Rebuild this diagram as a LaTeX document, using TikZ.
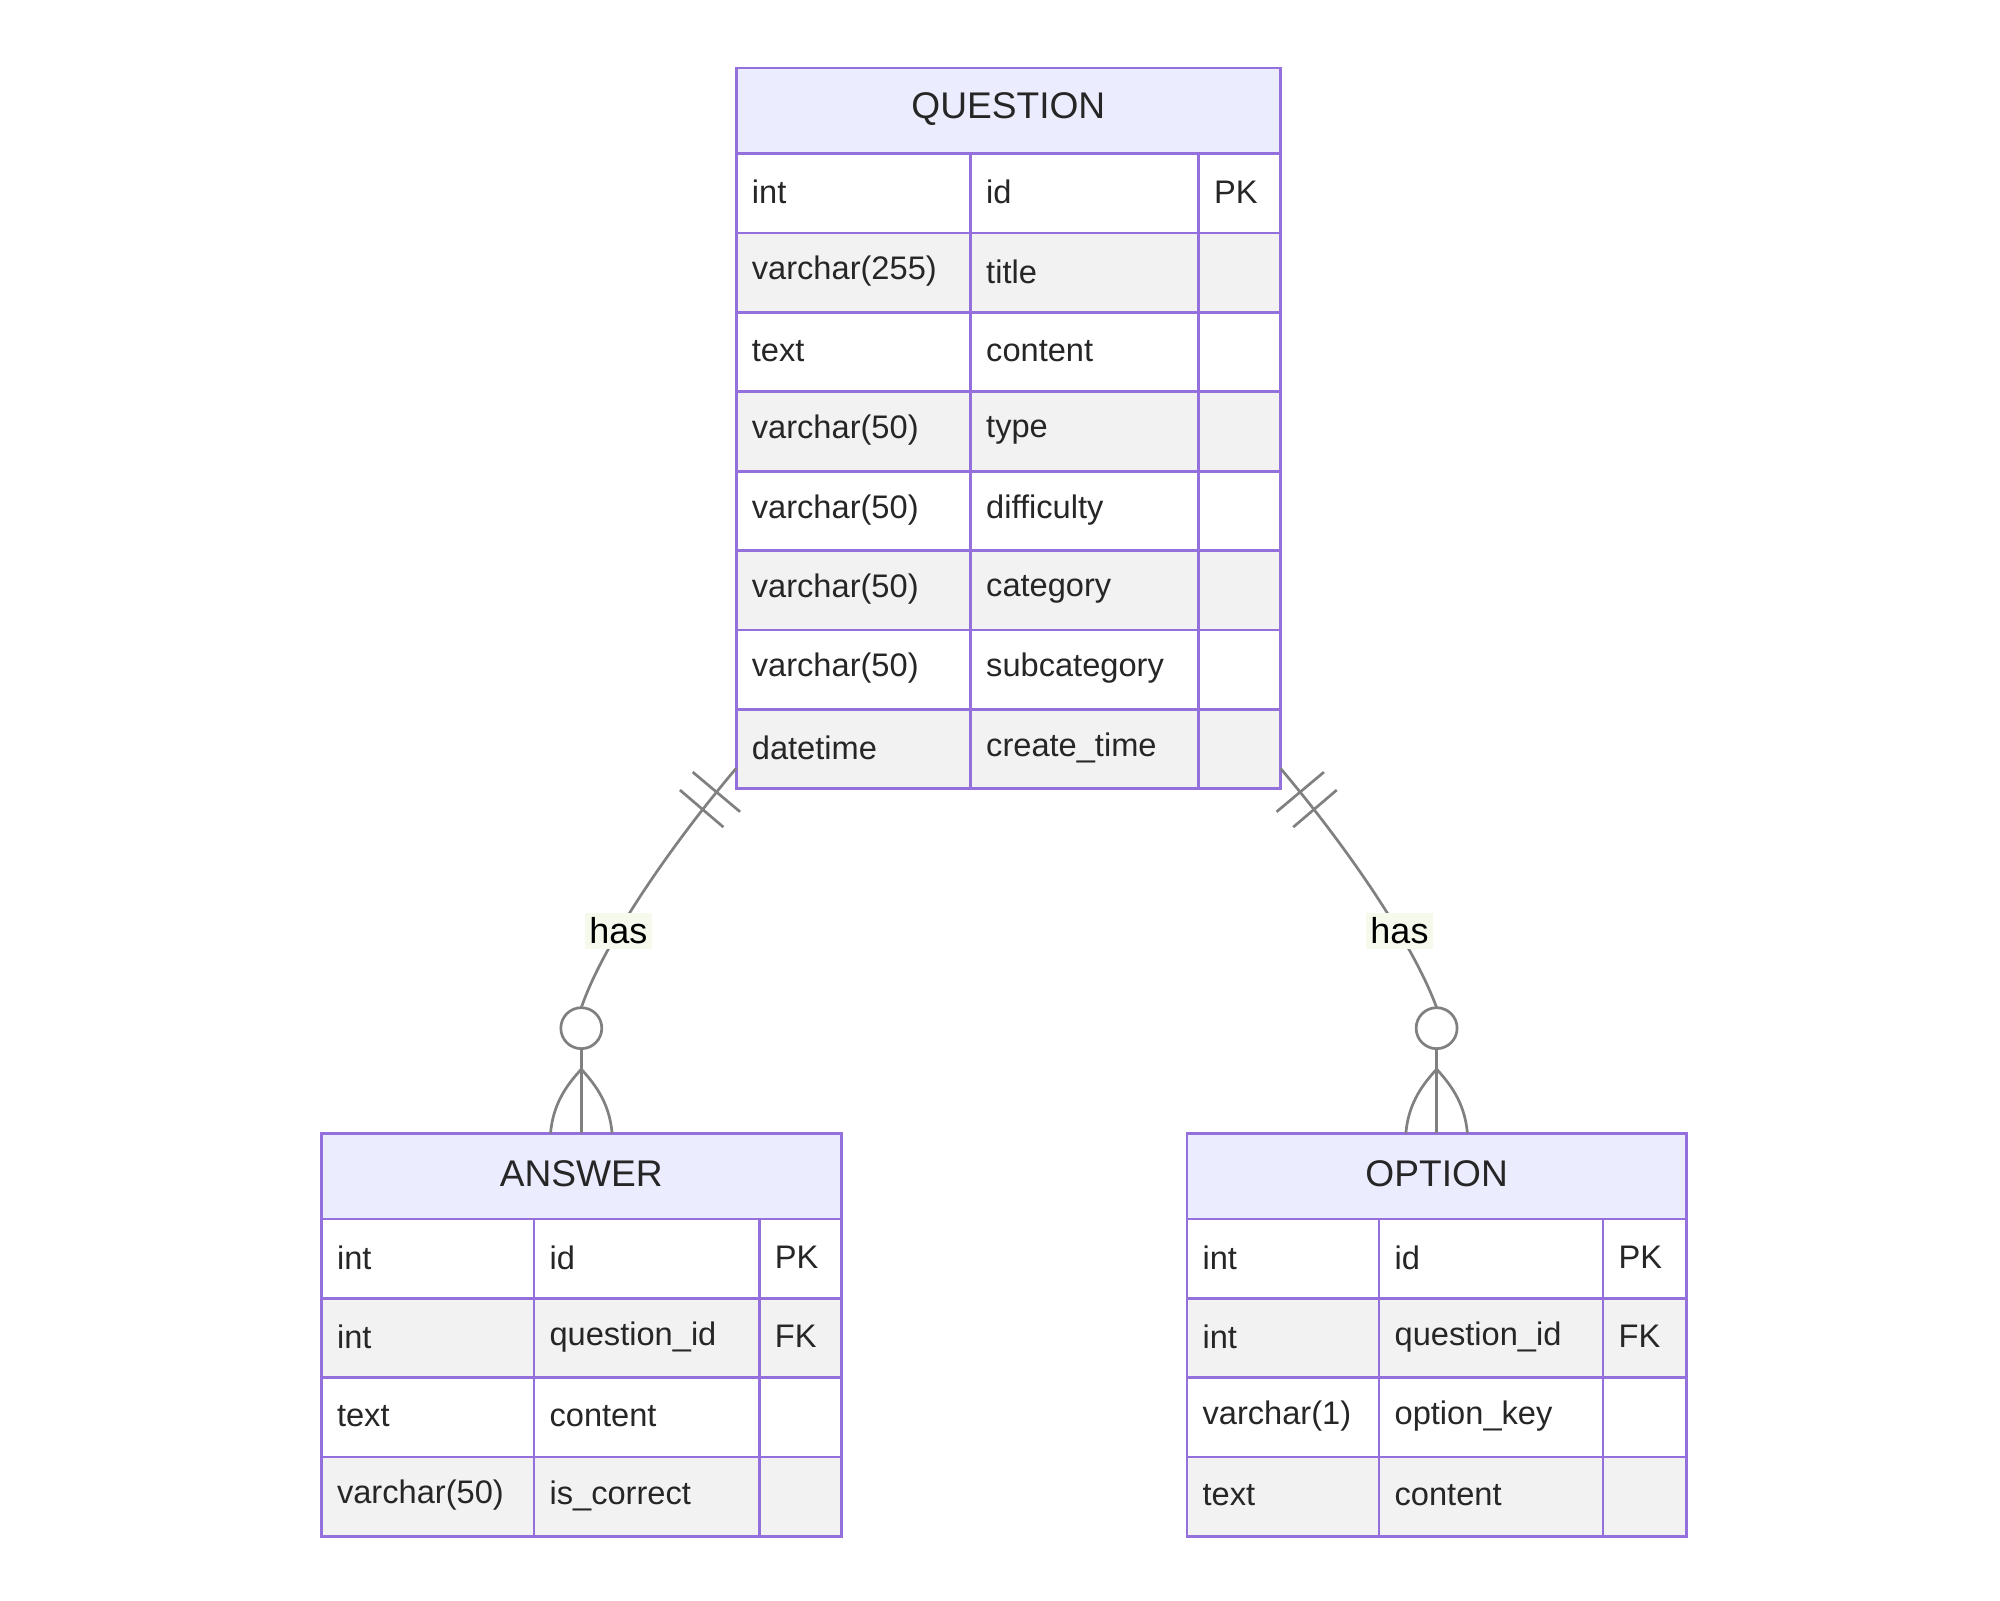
\documentclass[tikz,border=0pt]{standalone}
\usepackage{fontspec}
\setmainfont{Liberation Sans}
\definecolor{erborder}{HTML}{9370DB}
\definecolor{erhead}{HTML}{ECECFF}
\definecolor{erodd}{HTML}{F2F2F2}
\definecolor{erlabel}{HTML}{F6FAEC}
\begin{document}
\begin{tikzpicture}[x=0.02cm,y=-0.02cm,rel line/.style={draw=gray,line width=1.2pt},
cell/.style={anchor=west,font=\fontsize{14.5}{16}\selectfont,text=black!85},
head/.style={font=\fontsize{16.5}{18}\selectfont,text=black!85},
tbl/.style={draw=erborder,line width=1.2pt}]
\useasboundingbox (0,0) rectangle (1562,1250);
% tables: #1 name, #2 x0, #3 x1, #4 x2, #5 x3, #6 top, #7 title, #8 rows
\newcommand{\ertable}[8]{%
\fill[erhead] (#2,#6) rectangle (#5,#6+67);
\node[head] (#1) at ({(#2+#5)/2},#6+32) {#7};
\foreach \ty/\nm/\ky [count=\i] in {#8}{
  \pgfmathsetmacro{\ytop}{#6+67+(\i-1)*62}
  \ifodd\i\else\fill[erodd] (#2,\ytop) rectangle (#5,\ytop+62);\fi
  \draw[tbl] (#2,\ytop) -- (#5,\ytop);
  \node[cell] (#1-t\i) at (#2+6,\ytop+30) {\ty};
  \node[cell] (#1-n\i) at (#3+6,\ytop+30) {\nm};
  \node[cell] (#1-k\i) at (#4+6,\ytop+30) {\ky};
  \xdef\ybot{\ytop}
}
\draw[tbl] (#2,#6) rectangle (#5,\ybot+62);
\draw[tbl] (#3,#6+67) -- (#3,\ybot+62) (#4,#6+67) -- (#4,\ybot+62);
}
\ertable{question}{575}{758}{936}{1000}{53}{QUESTION}{int/id/PK,varchar(255)/title/,text/content/,varchar(50)/type/,varchar(50)/difficulty/,varchar(50)/category/,varchar(50)/subcategory/,datetime/create\_time/}
\ertable{answer}{251}{417}{593}{657}{885}{ANSWER}{int/id/PK,int/question\_id/FK,text/content/,varchar(50)/is\_correct/}
\ertable{option}{927}{1077}{1252}{1317}{885}{OPTION}{int/id/PK,int/question\_id/FK,varchar(1)/option\_key/,text/content/}
% relation ends
\coordinate (qa) at (575,600);
\coordinate (qo) at (1000,600);
\coordinate (ca) at (454,803);
\coordinate (co) at (1122,803);
\coordinate (at) at (454,885);
\coordinate (ot) at (1122,885);
\begin{scope}[every path/.style={rel line}]
\draw (qa) .. controls (520,665) and (470,740) .. (454,787);
\draw (qo) .. controls (1055,665) and (1105,740) .. (1122,787);
\draw (ca) circle (16);
\draw (co) circle (16);
\draw (at) -- ++(0,-66);
\draw (ot) -- ++(0,-66);
\draw (430,885) .. controls (432,860) and (445,845) .. (454,835) .. controls (463,845) and (476,860) .. (478,885);
\draw (1098,885) .. controls (1100,860) and (1113,845) .. (1122,835) .. controls (1131,845) and (1144,860) .. (1146,885);
\draw (531,617) -- (565,646) (541,603) -- (578,634);
\draw (1044,617) -- (1010,646) (1034,603) -- (997,634);
\end{scope}
\node[fill=erlabel,font=\fontsize{16}{18}\selectfont,inner sep=2pt] (has1) at (483,727) {has};
\node[fill=erlabel,font=\fontsize{16}{18}\selectfont,inner sep=2pt] (has2) at (1093,727) {has};
\end{tikzpicture}
\end{document}
